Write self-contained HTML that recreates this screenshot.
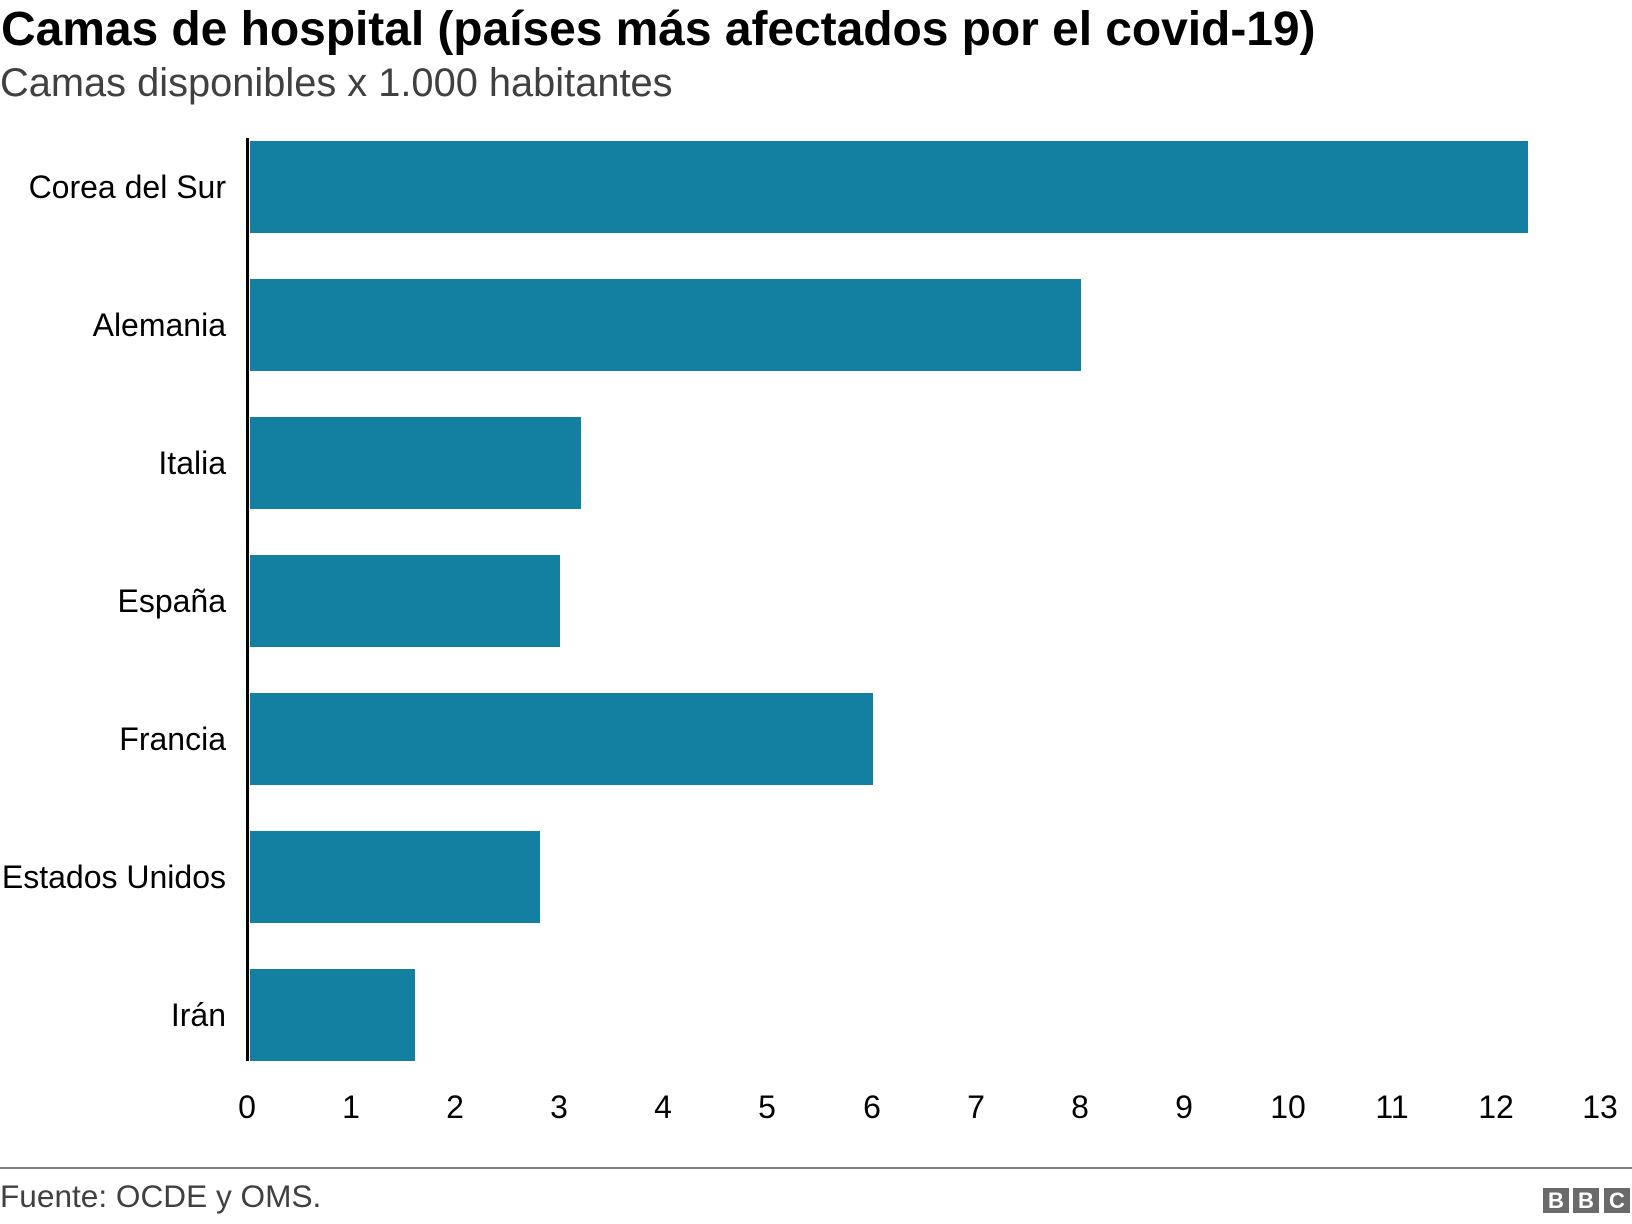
<!DOCTYPE html>
<html>
<head>
<meta charset="utf-8">
<style>
  html, body { margin:0; padding:0; background:#fff; }
  body { width:1632px; height:1224px; position:relative; overflow:hidden; font-family:"Liberation Sans", Arial, sans-serif; }
  .abs { position:absolute; white-space:nowrap; }
  .title { left:1px; top:6px; font-size:48px; line-height:48px; font-weight:bold; color:#000; letter-spacing:-0.06px; }
  .sub { left:0px; top:63px; font-size:39.8px; line-height:40px; color:#404040; }
  .lab { right:1406px; font-size:32px; line-height:32px; color:#000; text-align:right; }
  .bar { position:absolute; left:250px; height:92px; background:#1380a1; }
  .axis { position:absolute; left:246px; top:138px; width:3px; height:923px; background:#000; }
  .tick { width:100px; text-align:center; font-size:32px; line-height:32px; color:#000; top:1091px; }
  .rule { position:absolute; left:0; top:1167px; width:1632px; height:2px; background:#808080; }
  .foot { left:0px; top:1180px; font-size:31.6px; line-height:32px; color:#404040; }
  .bbc { position:absolute; top:1188px; width:26px; height:25px; background:#6a6a6a; color:#fff; font-weight:bold; font-size:22px; line-height:25px; text-align:center; }
</style>
</head>
<body>
  <div class="abs title">Camas de hospital (países más afectados por el covid-19)</div>
  <div class="abs sub">Camas disponibles x 1.000 habitantes</div>

  <div class="bar" style="top:141px; width:1278px;"></div>
  <div class="bar" style="top:279px; width:831px;"></div>
  <div class="bar" style="top:417px; width:331px;"></div>
  <div class="bar" style="top:555px; width:310px;"></div>
  <div class="bar" style="top:693px; width:623px;"></div>
  <div class="bar" style="top:831px; width:290px;"></div>
  <div class="bar" style="top:969px; width:165px;"></div>

  <div class="axis"></div>

  <div class="abs lab" style="top:171px;">Corea del Sur</div>
  <div class="abs lab" style="top:309px;">Alemania</div>
  <div class="abs lab" style="top:447px;">Italia</div>
  <div class="abs lab" style="top:585px;">España</div>
  <div class="abs lab" style="top:723px;">Francia</div>
  <div class="abs lab" style="top:861px;">Estados Unidos</div>
  <div class="abs lab" style="top:999px;">Irán</div>

  <div class="abs tick" style="left:197px;">0</div>
  <div class="abs tick" style="left:301px;">1</div>
  <div class="abs tick" style="left:405px;">2</div>
  <div class="abs tick" style="left:509px;">3</div>
  <div class="abs tick" style="left:613px;">4</div>
  <div class="abs tick" style="left:717px;">5</div>
  <div class="abs tick" style="left:822px;">6</div>
  <div class="abs tick" style="left:926px;">7</div>
  <div class="abs tick" style="left:1030px;">8</div>
  <div class="abs tick" style="left:1134px;">9</div>
  <div class="abs tick" style="left:1238px;">10</div>
  <div class="abs tick" style="left:1342px;">11</div>
  <div class="abs tick" style="left:1446px;">12</div>
  <div class="abs tick" style="left:1550px;">13</div>

  <div class="rule"></div>
  <div class="abs foot">Fuente: OCDE y OMS.</div>

  <div class="bbc" style="left:1543px;">B</div>
  <div class="bbc" style="left:1573px;">B</div>
  <div class="bbc" style="left:1604px;">C</div>
</body>
</html>
